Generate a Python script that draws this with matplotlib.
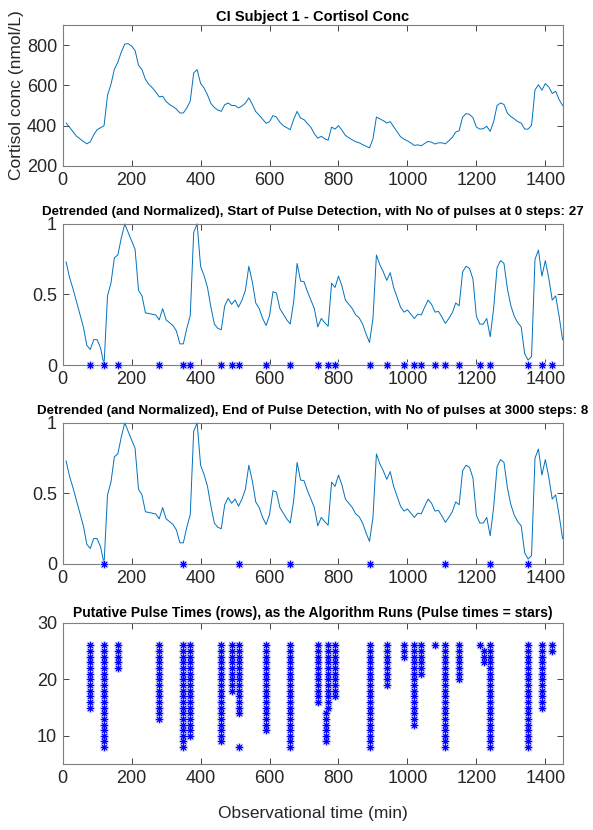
import numpy as np
import matplotlib
matplotlib.use('Agg')
import matplotlib.pyplot as plt

plt.rcParams['font.family'] = ['Liberation Sans', 'DejaVu Sans']

# observation times (min), one sample every 10 minutes
t = np.arange(10, 1451, 10)

cortisol = [413, 392, 370, 348, 335, 322, 310, 320, 355, 380,
            390, 400, 550, 605, 680, 715, 765, 805, 807, 795,
            773, 700, 678, 630, 605, 588, 568, 543, 546, 520,
            505, 495, 482, 463, 463, 488, 522, 662, 678, 610,
            587, 553, 510, 490, 478, 471, 504, 513, 500, 500,
            488, 498, 512, 538, 506, 470, 452, 432, 412, 420,
            450, 443, 417, 400, 390, 380, 432, 471, 438, 430,
            410, 392, 360, 338, 347, 335, 328, 393, 383, 400,
            378, 352, 340, 330, 320, 315, 306, 298, 290, 335,
            443, 434, 425, 413, 420, 395, 370, 345, 333, 325,
            314, 302, 305, 300, 312, 322, 318, 309, 315, 315,
            310, 325, 342, 368, 375, 443, 460, 456, 440, 393,
            383, 385, 397, 372, 420, 500, 513, 505, 462, 445,
            434, 420, 413, 383, 383, 402, 578, 603, 576, 609,
            592, 560, 571, 529, 500]

detrended = [0.73, 0.62, 0.54, 0.45, 0.36, 0.27, 0.14, 0.11, 0.18, 0.18,
             0.12, 0.0, 0.49, 0.58, 0.76, 0.78, 0.90, 1.0, 0.94, 0.88,
             0.82, 0.53, 0.49, 0.37, 0.365, 0.36, 0.355, 0.32, 0.40, 0.32,
             0.30, 0.28, 0.24, 0.15, 0.15, 0.26, 0.35, 0.94, 1.0, 0.70,
             0.635, 0.55, 0.41, 0.29, 0.26, 0.25, 0.42, 0.47, 0.43, 0.46,
             0.41, 0.46, 0.53, 0.70, 0.59, 0.44, 0.40, 0.33, 0.28, 0.35,
             0.52, 0.51, 0.40, 0.36, 0.32, 0.29, 0.45, 0.72, 0.595, 0.59,
             0.52, 0.46, 0.40, 0.27, 0.33, 0.30, 0.275, 0.58, 0.55, 0.63,
             0.56, 0.46, 0.43, 0.40, 0.355, 0.335, 0.29, 0.22, 0.16, 0.33,
             0.78, 0.71, 0.66, 0.60, 0.655, 0.55, 0.48, 0.41, 0.375, 0.39,
             0.36, 0.33, 0.36, 0.355, 0.41, 0.46, 0.43, 0.375, 0.38, 0.34,
             0.295, 0.33, 0.37, 0.44, 0.42, 0.66, 0.70, 0.685, 0.61, 0.345,
             0.29, 0.29, 0.33, 0.20, 0.40, 0.69, 0.74, 0.72, 0.54, 0.42,
             0.345, 0.30, 0.27, 0.08, 0.035, 0.06, 0.75, 0.815, 0.63, 0.74,
             0.615, 0.46, 0.49, 0.345, 0.18]

start_pulses = [80, 120, 160, 280, 350, 370, 460, 490, 510, 590, 660, 740, 770, 790,
                890, 940, 990, 1020, 1040, 1080, 1110, 1150, 1210, 1240, 1350, 1390, 1420]
end_pulses = [120, 350, 510, 660, 890, 1110, 1240, 1350]

# putative pulse columns: time, lowest row, highest row
col_time = [80, 120, 160, 280, 350, 370, 460, 490, 510, 510, 590, 660, 740, 770, 763,
            790, 890, 940, 990, 1020, 1040, 1080, 1110, 1150, 1210, 1221, 1240, 1350,
            1390, 1420]
col_lo = [15, 8, 22, 13, 8, 10, 9, 18, 14, 8, 11, 8, 16, 15, 9,
          17, 8, 19, 24, 12, 21, 26, 8, 20, 26, 23, 8, 8,
          15, 25]
col_hi = [26, 26, 26, 26, 26, 26, 26, 26, 26, 8, 26, 26, 26, 26, 14,
          26, 26, 26, 26, 26, 26, 26, 26, 26, 26, 25, 26, 26,
          26, 26]

line_col = '#0072BD'
ax_col = '#262626'
star = (8, 2, 0)

fig = plt.figure(figsize=(5.93, 8.30), dpi=100)
L, W, H = 0.1057, 0.843, 0.170
bottoms = [0.800, 0.5602, 0.3205, 0.0795]
axs = [fig.add_axes([L, b, W, H]) for b in bottoms]


def style(ax):
    ax.set_xlim(0, 1450)
    ax.set_xticks(range(0, 1401, 200))
    ax.tick_params(direction='in', length=4, width=0.6, top=True, right=True,
                   labelsize=13, colors=ax_col, pad=4)
    for s in ax.spines.values():
        s.set_color('#7f7f7f')
        s.set_linewidth(0.8)


def stars(ax, x, y):
    ax.plot(x, y, linestyle='none', marker=star, ms=6.5, mew=1.1, color='#b0b0ff', zorder=3)
    ax.plot(x, y, linestyle='none', marker=star, ms=4.5, mew=0.7, color='#0000ff', zorder=4)


ax = axs[0]
ax.plot(t, cortisol, color=line_col, lw=0.7)
style(ax)
ax.set_ylim(200, 900)
ax.set_yticks([200, 400, 600, 800])
ax.set_ylabel('Cortisol conc (nmol/L)', fontsize=12.5, color=ax_col, labelpad=2)
ax.set_title('CI Subject 1 - Cortisol Conc', fontsize=10.5, fontweight='bold', pad=3)

titles = ['Detrended (and Normalized), Start of Pulse Detection, with No of pulses at 0 steps: 27',
          'Detrended (and Normalized), End of Pulse Detection, with No of pulses at 3000 steps: 8']
for ax, pulses, ttl in zip(axs[1:3], [start_pulses, end_pulses], titles):
    ax.plot(t, detrended, color=line_col, lw=0.7)
    stars(ax, pulses, np.zeros(len(pulses)))
    style(ax)
    ax.set_ylim(0, 1)
    ax.set_yticks([0, 0.5, 1])
    ax.set_yticklabels(['0', '0.5', '1'])
    ax.set_title(ttl, fontsize=9.6, fontweight='bold', pad=6.5)
    for c in ax.lines:
        c.set_clip_on(False)

ax = axs[3]
for x, lo, hi in zip(col_time, col_lo, col_hi):
    rows = np.arange(lo, hi + 1)
    stars(ax, np.full(len(rows), x), rows)
style(ax)
ax.set_ylim(5, 30)
ax.set_yticks([10, 20, 30])
ax.set_title('Putative Pulse Times (rows), as the Algorithm Runs (Pulse times = stars)',
             fontsize=10, fontweight='bold', pad=4)
ax.set_xlabel('Observational time (min)', fontsize=12.5, color=ax_col, labelpad=14)

fig.savefig('out.png', dpi=100)
